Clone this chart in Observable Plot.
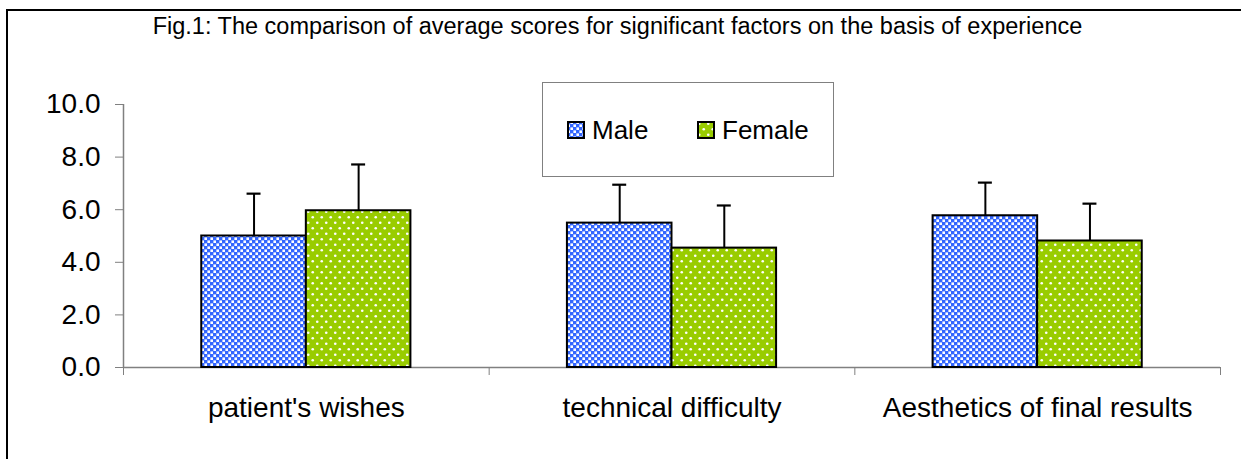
<!DOCTYPE html>
<html>
<head>
<meta charset="utf-8">
<script src="https://cdn.jsdelivr.net/npm/d3@7"></script>
<script src="https://cdn.jsdelivr.net/npm/@observablehq/plot@0.6"></script>
<style>
  body { margin: 0; background: #fff; font-family: "Liberation Sans", Arial, sans-serif; }
  #wrap { position: relative; width: 1241px; height: 459px; overflow: hidden; background: #fff; }
  #frame { position: absolute; left: 6px; top: 9px; width: 1300px; height: 500px;
           border-left: 2px solid #000; border-top: 2px solid #000; }
  #title { position: absolute; left: 0; top: 13px; width: 1235px; text-align: center;
           font-size: 23.5px; color: #000; white-space: nowrap; }
  #chart { position: absolute; left: 0; top: 0; }
  #legend { position: absolute; left: 542px; top: 82px; width: 290px; height: 93px;
            border: 1px solid #808080; background: #fff; }
  .item { position: absolute; top: 30px; height: 34px; display: flex; align-items: center;
          font-size: 26px; color: #000; }
  .item svg { margin-right: 7px; }
</style>
</head>
<body>
<div id="wrap">
  <div id="frame"></div>
  <div id="chart"></div>
  <div id="title"></div>
  <div id="legend"></div>
</div>
<script>
// ---- data ----
const categories = ["patient's wishes", "technical difficulty", "Aesthetics of final results"];
const sexes = ["Male", "Female"];
const maleMeans = [5.0, 5.49, 5.77];
const femaleMeans = [5.96, 4.54, 4.81];
const maleSD = [1.61, 1.46, 1.26];
const femaleSD = [1.76, 1.62, 1.42];
const yTicks = [0, 2, 4, 6, 8, 10];
const title = "Fig.1: The comparison of average scores for significant factors on the basis of experience";

// ---- table built from arrays ----
const rows = [];
categories.forEach((c, i) => {
  rows.push({cat: c, i, sex: "Male", mean: maleMeans[i], sd: maleSD[i]});
  rows.push({cat: c, i, sex: "Female", mean: femaleMeans[i], sd: femaleSD[i]});
});

const W = 0.286;    // bar width as fraction of one category slot
const CAP = 0.0191; // half width of the error-bar cap, in slot units
const center = d => d.i + 0.5 + (d.sex === "Male" ? -W / 2 : W / 2);

const fills = {Male: "url(#pat-male)", Female: "url(#pat-female)"};

const chart = Plot.plot({
  width: 1241,
  height: 459,
  marginLeft: 123,
  marginRight: 21,
  marginTop: 104,
  marginBottom: 92,
  style: {fontFamily: "'Liberation Sans', Arial, sans-serif", fontSize: "28px", color: "#000", background: "transparent", overflow: "visible"},
  x: {domain: [0, categories.length]},
  y: {domain: [0, 10]},
  marks: [
    Plot.ruleY([0], {stroke: "#808080", strokeWidth: 1.5}),
    ...sexes.map(s => Plot.rect(rows.filter(d => d.sex === s), {
      x1: d => center(d) - W / 2,
      x2: d => center(d) + W / 2,
      y1: 0,
      y2: "mean",
      fill: fills[s],
      stroke: "#000",
      strokeWidth: 2
    })),
    Plot.ruleX(rows, {x: center, y1: "mean", y2: d => d.mean + d.sd, stroke: "#000", strokeWidth: 2}),
    Plot.ruleY(rows, {y: d => d.mean + d.sd, x1: d => center(d) - CAP, x2: d => center(d) + CAP, stroke: "#000", strokeWidth: 2.2}),
    Plot.ruleX([0], {stroke: "#808080", strokeWidth: 1.5}),
    Plot.axisY({ticks: yTicks, tickFormat: d3.format(".1f"), tickSize: 8, tickPadding: 15, stroke: "#808080", fill: "#000", label: null}),
    Plot.axisX({ticks: d3.range(categories.length + 1), tickFormat: () => "", tickSize: 8, stroke: "#808080", label: null}),
    Plot.axisX({ticks: categories.map((c, i) => i + 0.5), tickFormat: v => categories[Math.floor(v)], tickSize: 0, tickPadding: 30, fill: "#000", label: null})
  ]
});

// ---- patterns ----
const svg = d3.select(chart);
const defs = svg.insert("defs", ":first-child");
const pm = defs.append("pattern").attr("id", "pat-male").attr("patternUnits", "userSpaceOnUse")
  .attr("width", 6).attr("height", 6);
pm.append("rect").attr("width", 6).attr("height", 6).attr("fill", "#ffffff");
pm.append("rect").attr("width", 3.4).attr("height", 3.4).attr("fill", "#3366ff");
pm.append("rect").attr("x", 3).attr("y", 3).attr("width", 3.4).attr("height", 3.4).attr("fill", "#3366ff");
pm.append("rect").attr("x", -3).attr("y", 3).attr("width", 3.4).attr("height", 3.4).attr("fill", "#3366ff");
pm.append("rect").attr("x", 3).attr("y", -3).attr("width", 3.4).attr("height", 3.4).attr("fill", "#3366ff");
const pf = defs.append("pattern").attr("id", "pat-female").attr("patternUnits", "userSpaceOnUse")
  .attr("width", 9).attr("height", 11);
pf.append("rect").attr("width", 9).attr("height", 11).attr("fill", "#99cc00");
pf.append("circle").attr("cx", 2.25).attr("cy", 2.75).attr("r", 1.3).attr("fill", "#ffffff");
pf.append("circle").attr("cx", 6.75).attr("cy", 8.25).attr("r", 1.3).attr("fill", "#ffffff");

document.getElementById("chart").appendChild(chart);
document.getElementById("title").textContent = title;

// ---- legend ----
const legend = d3.select("#legend");
const legendLeft = {Male: 24, Female: 154};
sexes.forEach(s => {
  const item = legend.append("div").attr("class", "item").style("left", legendLeft[s] + "px");
  const sw = item.append("svg").attr("width", 18).attr("height", 18);
  sw.append("rect").attr("x", 1).attr("y", 1).attr("width", 16).attr("height", 16)
    .attr("fill", fills[s]).attr("stroke", "#000").attr("stroke-width", 2);
  item.append("span").text(s);
});
</script>
</body>
</html>
